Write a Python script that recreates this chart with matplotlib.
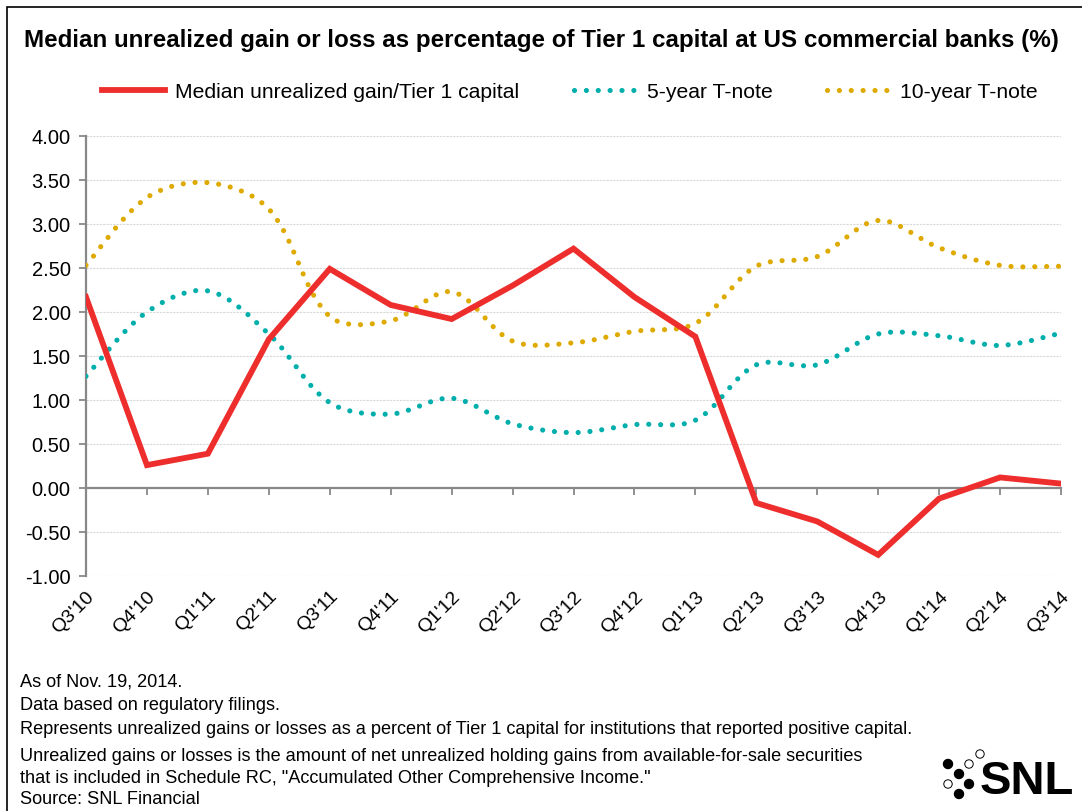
import matplotlib
matplotlib.use("Agg")
import matplotlib.pyplot as plt
from matplotlib.path import Path
from matplotlib.patches import PathPatch, Rectangle, Circle
from matplotlib.lines import Line2D

quarters = ["Q3'10", "Q4'10", "Q1'11", "Q2'11", "Q3'11", "Q4'11", "Q1'12", "Q2'12",
            "Q3'12", "Q4'12", "Q1'13", "Q2'13", "Q3'13", "Q4'13", "Q1'14", "Q2'14", "Q3'14"]
median_gain = [2.17, 0.26, 0.39, 1.69, 2.49, 2.08, 1.92, 2.30, 2.72, 2.17, 1.72,
               -0.17, -0.38, -0.76, -0.12, 0.12, 0.05]
t5 = [1.27, 2.00, 2.24, 1.75, 0.97, 0.84, 1.02, 0.73, 0.63, 0.72, 0.77,
      1.40, 1.40, 1.75, 1.73, 1.62, 1.76]
t10 = [2.53, 3.30, 3.47, 3.17, 1.95, 1.90, 2.23, 1.67, 1.65, 1.78, 1.87,
       2.52, 2.63, 3.04, 2.73, 2.53, 2.52]
yticks = [-1.0, -0.5, 0.0, 0.5, 1.0, 1.5, 2.0, 2.5, 3.0, 3.5, 4.0]

title = "Median unrealized gain or loss as percentage of Tier 1 capital at US commercial banks (%)"
labels = ["Median unrealized gain/Tier 1 capital", "5-year T-note", "10-year T-note"]
notes = ["As of Nov. 19, 2014.",
         "Data based on regulatory filings.",
         "Represents unrealized gains or losses as a percent of Tier 1 capital for institutions that reported positive capital.",
         "Unrealized gains or losses is the amount of net unrealized holding gains from available-for-sale securities",
         "that is included in Schedule RC, \"Accumulated Other Comprehensive Income.\"",
         "Source: SNL Financial"]

RED = "#ee2d2d"
TEAL = "#00aeab"
GOLD = "#deaa00"
GRAY = "#888888"

plt.rcParams['font.family'] = ['Liberation Sans', 'DejaVu Sans']

# axes box in pixels (left, bottom, width, height)
AX_L, AX_B, AX_W, AX_H = 86, 235, 975, 440
SX = AX_W / 16.0   # px per quarter
SY = AX_H / 5.0    # px per 1.00


def smooth_path(ys):
    # excel-like smoothed line: bezier through points, tangents scaled by segment length
    n = len(ys)
    pts = [(float(i), ys[i]) for i in range(n)]

    def dist(a, b):
        return (((b[0] - a[0]) * SX) ** 2 + ((b[1] - a[1]) * SY) ** 2) ** 0.5

    verts = [pts[0]]
    codes = [Path.MOVETO]
    for i in range(n - 1):
        p0 = pts[i - 1] if i > 0 else pts[i]
        p1 = pts[i]
        p2 = pts[i + 1]
        p3 = pts[i + 2] if i + 2 < n else pts[i + 1]
        d01, d12, d23 = dist(p0, p1), dist(p1, p2), dist(p2, p3)
        f1 = d12 / (d01 + d12) / 3 if d01 > 0 else 1 / 6
        f2 = d12 / (d12 + d23) / 3 if d23 > 0 else 1 / 6
        c1 = (p1[0] + (p2[0] - p0[0]) * f1, p1[1] + (p2[1] - p0[1]) * f1)
        c2 = (p2[0] - (p3[0] - p1[0]) * f2, p2[1] - (p3[1] - p1[1]) * f2)
        verts += [c1, c2, p2]
        codes += [Path.CURVE4] * 3
    return Path(verts, codes)


fig = plt.figure(figsize=(10.82, 8.12), dpi=100)
ax = fig.add_axes([AX_L / 1082, AX_B / 812, AX_W / 1082, AX_H / 812])

x = list(range(len(quarters)))
dot_style = (0, (0.01, 2.3))
for ys, col in [(t10, GOLD), (t5, TEAL)]:
    ax.add_patch(PathPatch(smooth_path(ys), facecolor='none', edgecolor=col,
                           lw=3.7, linestyle=dot_style, capstyle='round', zorder=3))
ax.plot(x, median_gain, color=RED, lw=4.2, zorder=4, solid_joinstyle='miter')

ax.set_xlim(0, 16)
ax.set_ylim(-1, 4)
ax.set_yticks(yticks)
ax.set_yticklabels([f"{v:.2f}" for v in yticks], fontsize=14.5)
ax.grid(axis='y', color='#d8d8d8', lw=0.8, linestyle=(0, (2, 1)))
ax.set_axisbelow(True)

for s in ['top', 'right']:
    ax.spines[s].set_visible(False)
ax.spines['left'].set_color(GRAY)
ax.spines['left'].set_linewidth(1.6)
ax.spines['bottom'].set_position(('data', 0))
ax.spines['bottom'].set_color(GRAY)
ax.spines['bottom'].set_linewidth(1.6)
ax.tick_params(axis='y', length=5, width=1.3, color=GRAY, pad=6)
ax.set_xticks(x)
ax.tick_params(axis='x', length=5, width=1.3, color=GRAY, labelbottom=False)

sec = ax.secondary_xaxis(0)
sec.set_xticks(x)
sec.set_xticklabels(quarters, rotation=45, ha='right', va='top',
                    rotation_mode='anchor', fontsize=14)
sec.tick_params(length=0, pad=8)
sec.spines['bottom'].set_visible(False)

handles = [Line2D([], [], color=RED, lw=4.2),
           Line2D([], [], color=TEAL, lw=3.7, linestyle=dot_style, dash_capstyle='round'),
           Line2D([], [], color=GOLD, lw=3.7, linestyle=dot_style, dash_capstyle='round')]
fig.legend(handles, labels, loc='center', bbox_to_anchor=(570 / 1082, 1 - 93 / 812),
           ncol=3, frameon=False, fontsize=15.2, handlelength=3.0,
           handletextpad=0.45, columnspacing=2.6)

fig.text(541 / 1082, 1 - 40 / 812, title, fontsize=17.4, fontweight='bold',
         ha='center', va='center')

note_y = [682, 706, 730, 757, 779, 800]
for t, yy in zip(notes, note_y):
    fig.text(20 / 1082, 1 - yy / 812, t, fontsize=13.1, ha='left', va='center')

# border
fig.add_artist(Rectangle((7 / 1082, -0.1), 1.2, 1.1 - 8 / 812, transform=fig.transFigure,
                         fill=False, edgecolor='black', lw=1.2))

# SNL logo
tr = fig.dpi_scale_trans
filled = [(948, 765), (959, 775), (969, 785), (959, 795)]
hollow = [(980, 755), (969, 765), (948, 785)]
for px, py in filled:
    fig.add_artist(Circle((px / 100, (812 - py) / 100), 0.045, transform=tr,
                          facecolor='black', edgecolor='black'))
for px, py in hollow:
    fig.add_artist(Circle((px / 100, (812 - py) / 100), 0.042, transform=tr,
                          facecolor='white', edgecolor='black', lw=0.7))
fig.text(980 / 1082, 1 - 782 / 812, "SNL", fontsize=34, fontweight='bold',
         ha='left', va='center')

fig.savefig("out.png", dpi=100)
